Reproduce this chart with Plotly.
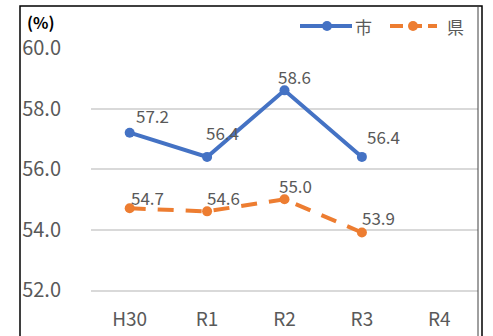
import plotly.graph_objects as go

# ---- data ----
years = ["H30", "R1", "R2", "R3", "R4"]
city = [57.2, 56.4, 58.6, 56.4, None]
pref = [54.7, 54.6, 55.0, 53.9, None]
series_names = ["市", "県"]
y_ticks = [52.0, 54.0, 56.0, 58.0, 60.0]

# ---- styling ----
W, H = 493, 336
ML, MR, MT, MB = 91, 15, 48, 46
BLUE = "#4472C4"
ORANGE = "#ED7D31"
GRID = "#D9D9D9"
TEXT = "#595959"
FONT = "Noto Sans CJK JP"

# pixel offsets of each value label from its marker
city_label_shift = [(23, 17), (15, 24), (10, 14), (22, 20)]
pref_label_shift = [(18, 11), (16, 14), (11, 14), (17, 15)]

PW, PH = W - ML - MR, H - MT - MB


def px_x(p):
    return (p - ML) / PW


def px_y(p):
    return (H - MB - p) / PH


fig = go.Figure()
fig.add_trace(go.Scatter(
    x=years, y=city, name=series_names[0], mode="lines+markers",
    line=dict(color=BLUE, width=4),
    marker=dict(size=10, color=BLUE),
    showlegend=False, cliponaxis=False,
))
fig.add_trace(go.Scatter(
    x=years, y=pref, name=series_names[1], mode="lines+markers",
    line=dict(color=ORANGE, width=4, dash="16px,12px"),
    marker=dict(size=10, color=ORANGE),
    showlegend=False, cliponaxis=False,
))

annotations = []
for vals, shifts in ((city, city_label_shift), (pref, pref_label_shift)):
    for yr, v, (dx, dy) in zip(years, vals, shifts):
        if v is None:
            continue
        annotations.append(dict(
            x=yr, y=v, xref="x", yref="y", text=f"{v:.1f}",
            showarrow=False, xshift=dx, yshift=dy,
            font=dict(family=FONT, size=17, color=TEXT),
        ))

# unit label
annotations.append(dict(
    x=px_x(41), y=px_y(22), xref="paper", yref="paper", text="<b>(%)</b>",
    showarrow=False, xanchor="center", yanchor="middle",
    font=dict(family=FONT, size=16, color="#000000"),
))

# legend drawn by hand: line + marker + label
shapes = []
legend_items = [
    (series_names[0], BLUE, "solid", 300, 352, 327, 363),
    (series_names[1], ORANGE, "13px,6px", 390, 437, 413, 455),
]
for name, col, dash, x0, x1, xm, xt in legend_items:
    shapes.append(dict(
        type="line", xref="paper", yref="paper",
        x0=px_x(x0), x1=px_x(x1), y0=px_y(26), y1=px_y(26),
        line=dict(color=col, width=4, dash=dash),
    ))
    shapes.append(dict(
        type="circle", xref="paper", yref="paper",
        x0=px_x(xm - 5), x1=px_x(xm + 5), y0=px_y(21), y1=px_y(31),
        fillcolor=col, line=dict(width=0),
    ))
    annotations.append(dict(
        x=px_x(xt), y=px_y(26), xref="paper", yref="paper", text=name,
        showarrow=False, xanchor="center", yanchor="middle",
        font=dict(family=FONT, size=17, color=TEXT),
    ))

# chart frame
shapes.append(dict(
    type="rect", xref="paper", yref="paper",
    x0=px_x(20), x1=px_x(482), y0=px_y(6), y1=px_y(345),
    line=dict(color="#000000", width=1.5), layer="above",
))
shapes.append(dict(
    type="line", xref="paper", yref="paper",
    x0=px_x(478), x1=px_x(478), y0=px_y(6), y1=px_y(345),
    line=dict(color="#404040", width=1), layer="above",
))

fig.update_layout(
    width=W, height=H,
    margin=dict(l=ML, r=MR, t=MT, b=MB),
    paper_bgcolor="white", plot_bgcolor="white",
    annotations=annotations, shapes=shapes,
    showlegend=False,
)
fig.update_xaxes(
    type="category", range=[-0.5, 4.5], showgrid=False,
    showline=True, linecolor=GRID, linewidth=1.5,
    ticks="", ticklabelstandoff=11, automargin=False,
    tickfont=dict(family=FONT, size=19, color=TEXT),
)
fig.update_yaxes(
    range=[52, 60], tickvals=y_ticks, tickformat=".1f",
    showgrid=True, gridcolor=GRID, gridwidth=1.5, zeroline=False,
    showline=False, ticks="", ticklabelstandoff=29, automargin=False,
    tickfont=dict(family=FONT, size=20, color=TEXT),
)

fig.write_html("out.html")
